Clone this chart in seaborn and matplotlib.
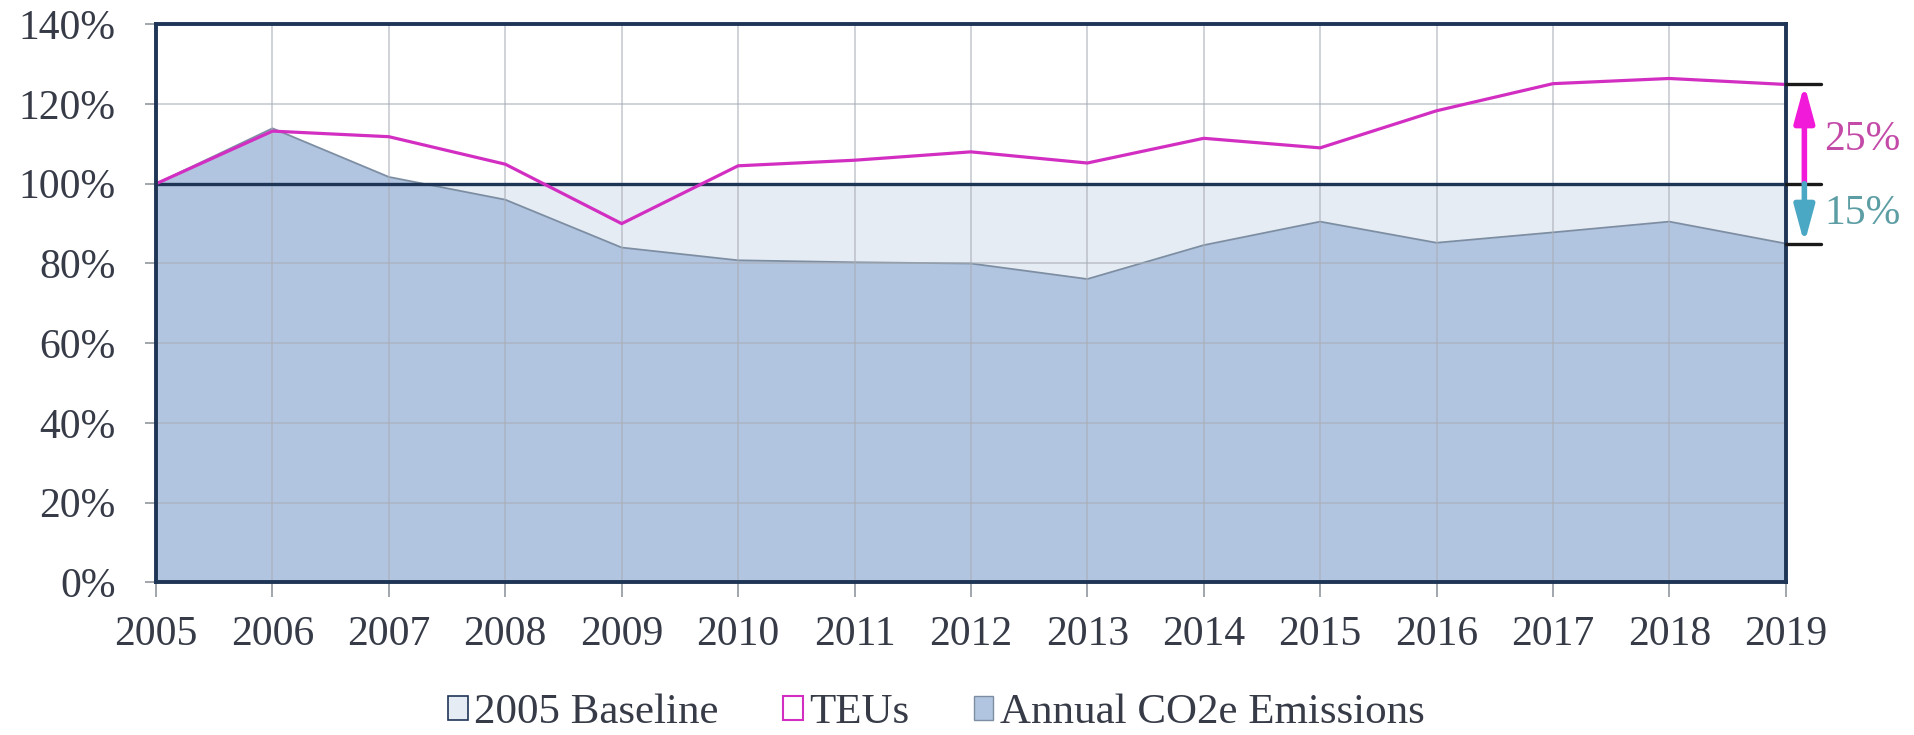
import matplotlib
matplotlib.use("Agg")
import matplotlib.pyplot as plt
import seaborn as sns
import pandas as pd
from matplotlib.patches import Patch

# ---- data ----
years = list(range(2005, 2020))
teus = [100, 113.2, 111.8, 104.9, 90.0, 104.5, 105.9, 108.0, 105.2, 111.4,
        109.0, 118.3, 125.1, 126.4, 124.9]
co2 = [100, 113.9, 101.7, 96.0, 84.0, 80.8, 80.3, 80.0, 76.1, 84.6,
       90.5, 85.2, 87.8, 90.5, 85.0]
baseline = [100] * len(years)
y_ticks = [0, 20, 40, 60, 80, 100, 120, 140]
y_tick_labels = [f"{v}%" for v in y_ticks]
legend_labels = ["2005 Baseline", "TEUs", "Annual CO2e Emissions"]

df = pd.DataFrame({"year": years, "teus": teus, "co2": co2, "baseline": baseline})

# ---- style ----
sns.set_style("white")
plt.rcParams["font.family"] = ["Liberation Serif", "DejaVu Serif"]
text_col = "#363b47"
navy = "#1f3556"
magenta_line = "#d22fc2"
magenta_arrow = "#f01ad8"
magenta_text = "#c44aa8"
teal_arrow = "#4aa8c4"
teal_text = "#5c9ea4"
base_fill = "#e6ecf4"
co2_fill = "#b1c5e1"
co2_edge = "#7d8ea3"
grid_col = "#a9aeb6"

fig = plt.figure(figsize=(19.15, 7.35), dpi=100)
ax = fig.add_axes([0.0815, 0.2075, 0.851, 0.7595])

# areas
ax.fill_between(df["year"], 0, df["baseline"], color=base_fill, zorder=1, lw=0)
ax.fill_between(df["year"], 0, df["co2"], color=co2_fill, zorder=2, lw=0)
sns.lineplot(data=df, x="year", y="co2", ax=ax, color=co2_edge, lw=1.3, zorder=3)

# grid on top of fills
for y in y_ticks:
    ax.axhline(y, color=grid_col, lw=1.1, alpha=0.7, zorder=4)
for x in years:
    ax.axvline(x, color=grid_col, lw=1.1, alpha=0.7, zorder=4)

# baseline line
sns.lineplot(data=df, x="year", y="baseline", ax=ax, color=navy, lw=2.4, zorder=5)
# TEUs line
sns.lineplot(data=df, x="year", y="teus", ax=ax, color=magenta_line, lw=2.3, zorder=6)

ax.set_xlim(years[0], years[-1])
ax.set_ylim(y_ticks[0], y_ticks[-1])
ax.set_xticks(years)
ax.set_xticklabels([str(y) for y in years])
ax.set_yticks(y_ticks)
ax.set_yticklabels(y_tick_labels)
ax.set_xlabel("")
ax.set_ylabel("")
ax.tick_params(axis="both", which="both", labelsize=30, labelcolor=text_col,
               color="#9a9ea6", width=1.3, direction="out")
ax.tick_params(axis="x", length=11, pad=13)
ax.tick_params(axis="y", length=8, pad=21)
ax.tick_params(bottom=True, left=True)

for s in ax.spines.values():
    s.set_color(navy)
    s.set_linewidth(2.8)
    s.set_visible(True)
    s.set_zorder(7)

# right-side difference markers
x0 = years[-1]
xa = x0 + 0.16
for v in [teus[-1], baseline[-1], co2[-1]]:
    ax.plot([x0, x0 + 0.3], [v, v], color="#1a1a1a", lw=2.4, clip_on=False, zorder=8)
arrow_style = "-|>,head_length=1.1,head_width=0.3"
ax.annotate("", xy=(xa, teus[-1]), xytext=(xa, baseline[-1]),
            arrowprops=dict(arrowstyle=arrow_style, color=magenta_arrow, lw=4,
                            mutation_scale=20, shrinkA=0, shrinkB=0),
            annotation_clip=False, zorder=9)
ax.annotate("", xy=(xa, co2[-1]), xytext=(xa, baseline[-1]),
            arrowprops=dict(arrowstyle=arrow_style, color=teal_arrow, lw=4,
                            mutation_scale=20, shrinkA=0, shrinkB=0),
            annotation_clip=False, zorder=9)
ax.text(x0 + 0.33, (teus[-1] + baseline[-1]) / 2 - 1.5,
        f"{teus[-1] - baseline[-1]:.0f}%", color=magenta_text, fontsize=30,
        va="center", ha="left", clip_on=False)
ax.text(x0 + 0.33, (co2[-1] + baseline[-1]) / 2,
        f"{baseline[-1] - co2[-1]:.0f}%", color=teal_text, fontsize=30,
        va="center", ha="left", clip_on=False)

# legend
handles = [
    Patch(facecolor=base_fill, edgecolor=navy, lw=1.2),
    Patch(facecolor="white", edgecolor=magenta_line, lw=1.5),
    Patch(facecolor=co2_fill, edgecolor=co2_edge, lw=1.0),
]
fig.legend(handles, legend_labels, loc="center", bbox_to_anchor=(0.489, 0.03),
           ncol=3, frameon=False, fontsize=31, handlelength=0.45, handleheight=0.5,
           handletextpad=0.15, columnspacing=1.5, labelcolor=text_col)

fig.savefig("out.png", dpi=100)
